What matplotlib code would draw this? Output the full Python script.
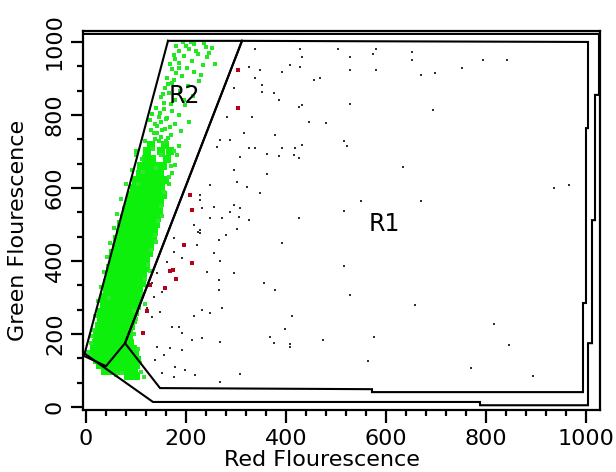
import matplotlib
matplotlib.use("Agg")
import matplotlib.pyplot as plt
from matplotlib.ticker import MultipleLocator

# ---------------- data ----------------
x_ticks = [0, 200, 400, 600, 800, 1000]
y_ticks = [0, 200, 400, 600, 800, 1000]
x_label = "Red Flourescence"
y_label = "Green Flourescence"

# gates (vertices in data units)
gate_r1_x = [312, 1004, 1004, 1000, 1000, 994, 994, 572, 572, 148, 78, 312]
gate_r1_y = [1003, 1000, 764, 764, 285, 285, 41, 41, 49, 52, 175, 1003]
gate_r2_x = [164, 312, 78, 40, -4, 164]
gate_r2_y = [1003, 1003, 175, 112, 140, 1003]
gate_all_x = [-6, 38, 134, 788, 788, 1004, 1004, 1012, 1012, 1018, 1018, 1026, 1026, -6]
gate_all_y = [150, 107, 14, 14, 5, 5, 175, 175, 512, 512, 855, 855, 1022, 1022]
gate_labels = ["R1", "R2"]
gate_label_x = [596, 196]
gate_label_y = [501, 852]

# dense green band (rows of events)
green_rows_y = [85, 100, 114, 129, 145, 159, 176, 189, 206, 221, 239, 261, 279, 301,
                319, 341, 359, 381, 399, 421, 439, 461, 479, 501, 519, 541, 559, 581,
                599, 621, 639, 661, 679, 701, 719]
green_rows_x = [
    [84, 99],
    [37, 53, 65, 81, 95],
    [27, 43, 55, 71, 83, 99],
    [21, 33, 49, 61, 77, 89, 101],
    [16, 32, 44, 60, 72, 88, 97],
    [15, 29, 45, 57, 73, 85, 93],
    [20, 32, 48, 60, 76, 88],
    [22, 36, 48, 64, 76, 85],
    [22, 38, 50, 66, 78, 86],
    [26, 38, 54, 66, 82, 89],
    [29, 41, 57, 69, 85, 94],
    [30, 46, 58, 74, 86, 98],
    [35, 47, 63, 75, 91, 100],
    [36, 52, 64, 80, 92, 105],
    [41, 53, 69, 81, 97, 106],
    [42, 58, 70, 86, 98, 112],
    [47, 59, 75, 87, 103, 114],
    [48, 64, 76, 92, 104, 119],
    [53, 65, 81, 93, 109, 120],
    [54, 70, 82, 98, 110, 126],
    [59, 71, 87, 99, 115, 127],
    [62, 78, 90, 106, 118, 133],
    [68, 80, 96, 108, 124, 135],
    [70, 86, 98, 114, 126, 140],
    [76, 88, 104, 116, 132, 141],
    [79, 95, 107, 123, 135, 146],
    [86, 98, 114, 126, 142, 148],
    [89, 105, 117, 133, 145, 153],
    [96, 108, 124, 136, 150],
    [100, 116, 128, 144, 157],
    [107, 119, 135, 147],
    [110, 126, 138, 154],
    [119, 131, 161],
    [121, 149, 167],
    [129, 157],
]

# ragged events along the edges of the band
green_edge_x = [8, 10, 14, 18, 24, 30, 36, 42, 48, 56, 62, 70, 80, 92, 100,
                108, 104, 96, 100, 106, 112, 118, 124, 130, 138, 144, 150, 156, 165,
                170, 176, 60, 72, 110, 115, 4, 12, 46, 118, 128, 139, 151, 95, 140,
                150, 133, 113, 104]
green_edge_y = [140, 175, 210, 250, 290, 330, 370, 410, 450, 490, 530, 570, 610, 650, 690,
                120, 160, 200, 240, 270, 310, 350, 390, 430, 470, 510, 550, 590, 630,
                660, 700, 88, 92, 95, 83, 152, 196, 300, 282, 372, 452, 522, 262, 655,
                690, 708, 644, 612]

# sparser green events in the upper part of R2
green_top_x = [150, 170, 135, 190, 158, 142, 178, 205, 128, 162, 186, 148, 172, 140, 198,
               156, 178, 150, 214, 165, 188, 158, 204, 172, 226, 162, 192, 180, 216, 172,
               202, 234, 186, 212, 178, 242, 196, 224, 186, 206, 252, 180, 216, 236, 194,
               258, 230, 246, 200, 220, 175, 185, 168, 240, 210, 165, 172, 178, 182, 100,
               112, 186, 118, 160, 138, 146, 155, 164, 130, 141, 152, 168, 137, 149, 160,
               145, 156, 132, 170, 196, 154, 163, 175]
green_top_y = [740, 745, 752, 756, 762, 770, 776, 780, 786, 792, 800, 806, 812, 820, 826,
               832, 840, 848, 852, 860, 866, 874, 880, 888, 892, 900, 906, 914, 918, 925,
               930, 936, 942, 948, 954, 958, 962, 968, 975, 980, 984, 990, 995, 998, 1000,
               940, 910, 970, 990, 975, 965, 930, 940, 985, 1000, 612, 640, 662, 690, 700,
               680, 716, 730, 728, 735, 728, 722, 738, 760, 752, 758, 768, 775, 782, 788,
               795, 816, 802, 830, 842, 858, 884, 896]

# dark events scattered in R1
dark_x = [338, 428, 431, 408, 325, 348, 391, 428, 455, 338, 351, 351, 375, 385, 295,
          431, 425, 331, 445, 301, 281, 315, 378, 338, 325, 391, 418, 431, 268, 288,
          308, 361, 385, 415, 425, 261, 295, 361, 248, 301, 321, 348, 228, 255, 295,
          308, 288, 271, 305, 325, 425, 228, 248, 215, 301,
          503, 580, 527, 573, 651, 651, 793, 841, 527, 580, 751, 698, 669, 468, 527,
          693, 480, 515, 521, 633, 935, 965, 550, 669, 515,
          515, 527, 657, 473, 575, 563, 816, 846, 769, 893,
          228, 265, 280, 255, 267, 241, 265, 295, 391, 355, 378, 265, 231, 248, 271,
          215, 171, 185, 191, 211, 231, 268, 168, 191, 141, 155, 138, 178, 198, 218,
          175, 151, 267, 307, 411, 397, 368, 375, 408, 408, 131, 148, 121, 135, 151,
          131, 141, 175, 191, 221, 175, 161, 228, 232, 224]
dark_y = [980, 980, 958, 937, 932, 923, 919, 932, 896, 900, 882, 864, 859, 841, 873,
          827, 821, 795, 782, 818, 795, 750, 745, 709, 709, 709, 709, 718, 731, 731,
          686, 693, 688, 690, 681, 713, 649, 638, 608, 617, 604, 587, 567, 549, 553,
          544, 535, 517, 521, 512, 517, 485, 517, 499, 489,
          980, 980, 958, 966, 973, 951, 951, 951, 923, 923, 930, 916, 909, 900, 830,
          815, 779, 730, 716, 658, 601, 608, 564, 564, 537,
          386, 307, 279, 185, 193, 127, 227, 170, 106, 85,
          476, 458, 471, 421, 401, 371, 348, 366, 450, 339, 321, 321, 266, 257, 270,
          249, 220, 220, 202, 184, 188, 177, 161, 156, 165, 143, 129, 111, 101, 88,
          83, 92, 69, 90, 249, 213, 193, 176, 174, 164, 248, 261, 270, 302, 316,
          339, 366, 426, 407, 444, 462, 398, 581, 545, 479]

# red events near the R2 / R1 border
red_x = [212, 174, 168, 195, 158, 114, 128, 208, 212, 304, 304, 122, 180]
red_y = [394, 375, 372, 444, 326, 203, 334, 581, 540, 923, 819, 262, 350]

# ---------------- drawing ----------------
W, H = 616, 472
fig = plt.figure(figsize=(W / 100, H / 100), dpi=100)
ax = fig.add_axes([83 / W, 1 - 410 / H, (600 - 83) / W, (410 - 31) / H])
ax.set_xlim(-6, 1028)
ax.set_ylim(-8, 1030)

gx = [x for row, xs in zip(green_rows_y, green_rows_x) for x in xs]
gy = [row for row, xs in zip(green_rows_y, green_rows_x) for x in xs]
ax.scatter(gx, gy, s=27, marker="s", color="#0cf00c", linewidths=0, zorder=2)
ax.scatter(green_edge_x, green_edge_y, s=12, marker="s", color="#30e830",
           linewidths=0, zorder=2)
ax.scatter(green_top_x, green_top_y, s=11, marker="s", color="#22e822",
           linewidths=0, zorder=2)
ax.scatter(dark_x, dark_y, s=3.5, marker="s", color="#303030", linewidths=0, zorder=3)
ax.scatter(red_x, red_y, s=8, marker="s", color="#b80018", linewidths=0, zorder=3)

for gxs, gys in [(gate_r1_x, gate_r1_y), (gate_r2_x, gate_r2_y), (gate_all_x, gate_all_y)]:
    ax.plot(gxs, gys, color="black", lw=1.5, zorder=4, solid_joinstyle="miter")

for t, tx, ty in zip(gate_labels, gate_label_x, gate_label_y):
    ax.text(tx, ty, t, fontsize=17, ha="center", va="center", zorder=5)

for sp in ax.spines.values():
    sp.set_linewidth(1.6)

ax.set_xticks(x_ticks)
ax.set_yticks(y_ticks)
ax.xaxis.set_minor_locator(MultipleLocator(40))
ax.yaxis.set_minor_locator(MultipleLocator(200 / 3))
ax.tick_params(which="major", direction="out", length=9, width=1.6, labelsize=16)
ax.tick_params(which="minor", direction="out", length=4.5, width=1.6)
ax.tick_params(axis="x", pad=5)
ax.tick_params(axis="y", pad=4, labelrotation=90)
for lab in ax.get_yticklabels():
    lab.set_va("center")

fig.text(322 / W, 1 - 460 / H, x_label, fontsize=16, ha="center", va="center")
fig.text(18 / W, 1 - 230 / H, y_label, fontsize=16, ha="center", va="center",
         rotation=90)

fig.savefig("out.png", dpi=100)
